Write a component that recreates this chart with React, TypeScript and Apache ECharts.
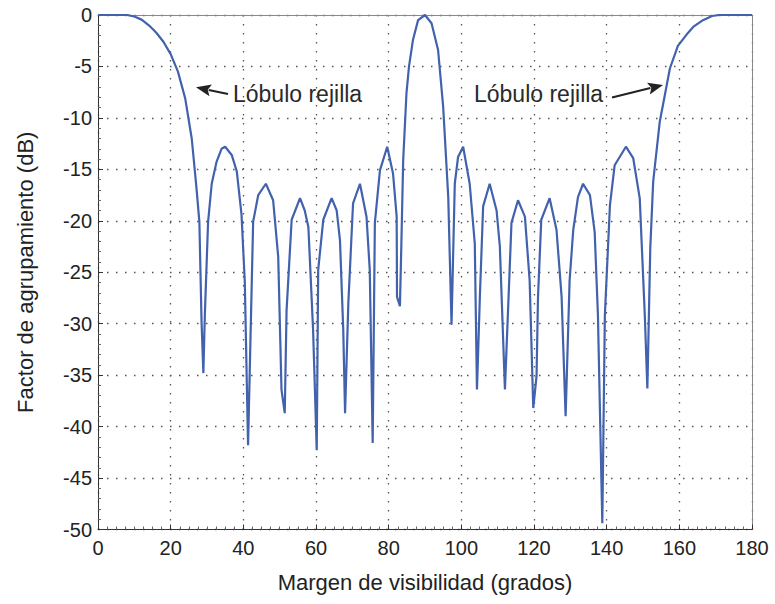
import React, { useEffect, useRef } from "react";
import * as echarts from "echarts";

// Array factor in dB (angle in degrees, level in dB)
const angles: number[] = [
  0, 8, 10, 12, 14, 16, 18, 20, 22, 24, 25.8, 27.1, 27.9, 28.5, 29, 29.4, 30.3, 31.3, 32.6, 34, 35,
  36.8, 38.2, 39.5, 40.4, 41.3, 42.7, 44.1, 46.2, 48.2, 49.6, 50.5, 51.4, 51.9, 53.3, 55.6, 56.9,
  57.9, 59.2, 60.2, 60.6, 62.0, 64.3, 65.7, 66.6, 67.5, 68.0, 68.9, 70.2, 72.1, 73.9, 74.8, 75.6,
  76.2, 77.6, 79.6, 81.2, 82.2, 82.3, 83.1, 83.5, 84.0, 84.9, 85.6, 86.7, 88.1, 90, 91.8, 93.6, 95.0,
  96.4, 97.3, 98.2, 99.1, 100.5, 102.3, 103.7, 104.3, 105.1, 106.0, 107.8, 109.7, 110.6, 112.0,
  113.8, 115.6, 117.5, 118.8, 119.8, 120.7, 121.1, 122.0, 124.3, 126.2, 127.6, 128.7, 129.8, 130.8,
  132.1, 133.5, 135.4, 136.7, 137.6, 138.8, 139.5, 140.9, 142.2, 145.3, 147.3, 149.1, 150.5, 151.2,
  152.0, 152.8, 154.6, 156.0, 157.4, 159.6, 162, 164, 166.5, 169, 171, 180,
];
const levels: number[] = [
  0, 0, -0.15, -0.45, -1.0, -1.7, -2.6, -3.8, -5.5, -8.1, -12.0, -16.8, -20.1, -29.8, -34.8, -29.2,
  -20.1, -16.4, -14.3, -13.0, -12.8, -13.6, -15.2, -19.4, -25.9, -41.8, -20.1, -17.5, -16.4, -18.0,
  -23.5, -36.4, -38.7, -28.7, -19.9, -17.8, -19.0, -20.6, -30.6, -42.3, -24.8, -19.9, -17.8, -19.0,
  -21.9, -30.6, -38.7, -28.0, -18.3, -16.4, -19.6, -24.8, -41.6, -20.2, -15.1, -12.8, -15.4, -19.6,
  -27.4, -28.3, -22.2, -14.1, -7.6, -5.0, -2.4, -0.5, 0, -0.8, -3.4, -8.9, -17.7, -30.1, -16.4,
  -13.8, -12.8, -16.4, -22.2, -36.4, -27.4, -18.6, -16.4, -19.0, -22.5, -36.4, -20.2, -18.0, -19.6,
  -25.8, -38.2, -35.1, -27.4, -19.9, -17.8, -20.9, -27.4, -39.0, -25.8, -20.9, -17.7, -16.4, -17.5,
  -21.1, -29.2, -49.4, -29.2, -18.5, -14.6, -12.8, -13.9, -17.8, -29.2, -36.3, -22.7, -16.2, -10.4,
  -7.8, -5.2, -3.0, -1.9, -1.1, -0.5, -0.1, 0, 0,
];

const xTicks = { min: 0, max: 180, step: 20 };
const yTicks = { min: -50, max: 0, step: 5 };

const xTitle = "Margen de visibilidad (grados)";
const yTitle = "Factor de agrupamiento (dB)";
const annotation = "Lóbulo rejilla";

const FONT = "'Liberation Sans', Arial, Helvetica, sans-serif";

function arrow(tail: [number, number], tip: [number, number], len: number, half: number) {
  const dx = tip[0] - tail[0];
  const dy = tip[1] - tail[1];
  const L = Math.hypot(dx, dy);
  const ux = dx / L;
  const uy = dy / L;
  const bx = tip[0] - len * ux;
  const by = tip[1] - len * uy;
  const nx = -uy;
  const ny = ux;
  return [
    {
      type: "line",
      shape: { x1: tail[0], y1: tail[1], x2: bx + ux * 2, y2: by + uy * 2 },
      style: { stroke: "#222", lineWidth: 2 },
      silent: true,
    },
    {
      type: "polygon",
      shape: {
        points: [
          [tip[0], tip[1]],
          [bx + half * nx, by + half * ny],
          [bx + ux * 3, by + uy * 3],
          [bx - half * nx, by - half * ny],
        ],
      },
      style: { fill: "#222" },
      silent: true,
    },
  ];
}

export default function App() {
  const ref = useRef<HTMLDivElement>(null);
  useEffect(() => {
    if (!ref.current) return;
    const chart = echarts.init(ref.current, undefined, { renderer: "svg" });
    const data = angles.map((a, i) => [a, levels[i]]);
    const axisLineStyle = { color: "#333", width: 1 };
    chart.setOption({
      animation: false,
      backgroundColor: "#fff",
      textStyle: { fontFamily: FONT },
      grid: { left: 98, right: 23, top: 15, bottom: 74.5, containLabel: false },
      xAxis: [
        {
          type: "value",
          min: xTicks.min,
          max: xTicks.max,
          interval: xTicks.step,
          name: xTitle,
          nameLocation: "middle",
          nameGap: 42,
          nameTextStyle: { fontSize: 22, color: "#222", fontFamily: FONT },
          axisLine: { show: true, onZero: false, lineStyle: axisLineStyle },
          axisTick: { show: true, inside: true, length: 5, lineStyle: { color: "#333" } },
          minorTick: { show: true, splitNumber: 8, length: 3, lineStyle: { color: "#666" } },
          axisLabel: { fontSize: 20, color: "#222", margin: 8, fontFamily: FONT },
          splitLine: {
            show: true,
            lineStyle: { color: "#555", width: 1.3, type: [1.5, 7.5] },
          },
        },
        {
          type: "value",
          position: "top",
          min: xTicks.min,
          max: xTicks.max,
          interval: xTicks.step,
          axisLine: { show: true, onZero: false, lineStyle: { color: "#888", width: 1 } },
          axisTick: { show: false },
          axisLabel: { show: false },
          splitLine: { show: false },
        },
      ],
      yAxis: [
        {
          type: "value",
          min: yTicks.min,
          max: yTicks.max,
          interval: yTicks.step,
          name: yTitle,
          nameLocation: "middle",
          nameGap: 62,
          nameTextStyle: { fontSize: 22, color: "#222", fontFamily: FONT },
          axisLine: { show: true, onZero: false, lineStyle: axisLineStyle },
          axisTick: { show: true, inside: true, length: 5, lineStyle: { color: "#333" } },
          minorTick: { show: true, splitNumber: 5, length: 3, lineStyle: { color: "#666" } },
          axisLabel: { fontSize: 20, color: "#222", margin: 6, fontFamily: FONT },
          splitLine: {
            show: true,
            lineStyle: { color: "#555", width: 1.3, type: [1.5, 7.5] },
          },
        },
        {
          type: "value",
          position: "right",
          min: yTicks.min,
          max: yTicks.max,
          interval: yTicks.step,
          axisLine: { show: true, onZero: false, lineStyle: { color: "#888", width: 1 } },
          axisTick: { show: false },
          axisLabel: { show: false },
          splitLine: { show: false },
        },
      ],
      series: [
        {
          type: "line",
          data,
          xAxisIndex: 0,
          yAxisIndex: 0,
          showSymbol: false,
          symbol: "none",
          smooth: false,
          lineStyle: { color: "#4262ad", width: 2.2 },
          itemStyle: { color: "#4262ad" },
          z: 5,
        },
      ],
      graphic: [
        {
          type: "text",
          left: 233,
          top: 82,
          style: { text: annotation, fontSize: 23, fill: "#2a2a2a", fontFamily: FONT },
          silent: true,
        },
        {
          type: "text",
          left: 474,
          top: 82,
          style: { text: annotation, fontSize: 23, fill: "#2a2a2a", fontFamily: FONT },
          silent: true,
        },
        ...arrow([228, 94], [196, 87.3], 15, 6),
        ...arrow([612, 97.5], [663, 85], 15, 6),
      ],
    });
    return () => chart.dispose();
  }, []);
  return (
    <div
      ref={ref}
      style={{ position: "fixed", left: 0, top: 0, width: 775, height: 604, background: "#fff" }}
    />
  );
}
